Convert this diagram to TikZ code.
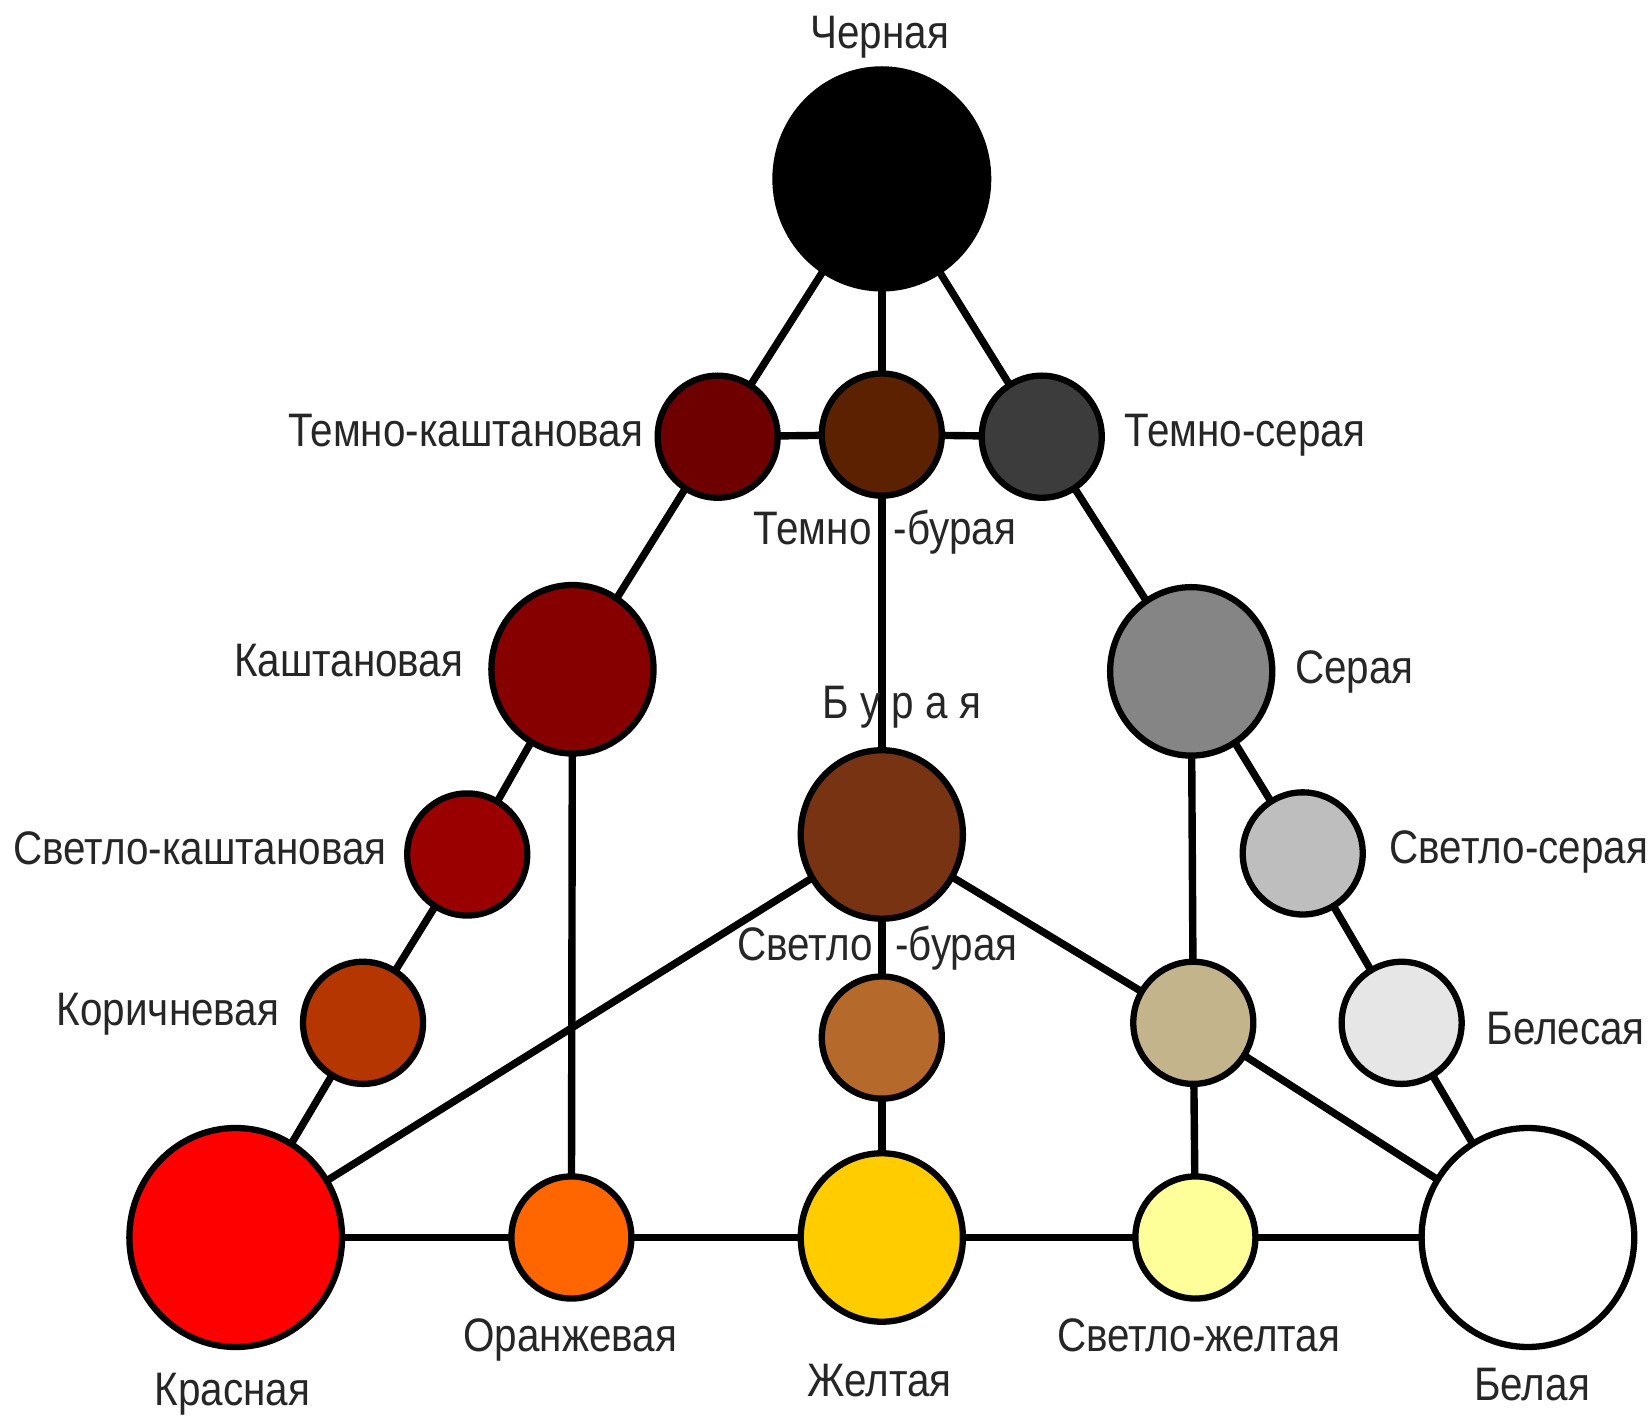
\documentclass[tikz,border=0pt]{standalone}
\usepackage{fontspec}
\setmainfont{Liberation Sans}[FakeStretch=0.86]
\usetikzlibrary{shapes.geometric}

\definecolor{tkasht}{HTML}{6E0000}
\definecolor{tbur}{HTML}{5C2200}
\definecolor{tser}{HTML}{3C3C3C}
\definecolor{kasht}{HTML}{860000}
\definecolor{ser}{HTML}{858585}
\definecolor{bur}{HTML}{773312}
\definecolor{skasht}{HTML}{9B0000}
\definecolor{sser}{HTML}{BEBEBE}
\definecolor{korich}{HTML}{B53600}
\definecolor{sbur}{HTML}{B5692A}
\definecolor{pale}{HTML}{C4B48C}
\definecolor{beles}{HTML}{E6E6E6}
\definecolor{krasn}{HTML}{FF0000}
\definecolor{oranzh}{HTML}{FF6600}
\definecolor{zhelt}{HTML}{FFCC00}
\definecolor{szhelt}{HTML}{FFFF99}

\begin{document}
\begin{tikzpicture}[x=0.01cm, y=-0.01cm,
    spot/.style={ellipse, draw=black, line width=1.7pt, inner sep=0pt, outer sep=0pt},
    bigspot/.style={spot, minimum width=2.02cm, minimum height=2.08cm},
    midspot/.style={spot, minimum width=1.54cm, minimum height=1.60cm},
    smallspot/.style={spot, minimum width=1.14cm, minimum height=1.16cm},
    link/.style={line width=2pt},
    lbl/.style={inner sep=0pt, text=black!85, font=\fontsize{12.7}{15}\selectfont}]
    \useasboundingbox (0,0) rectangle (1568,1345);
    % Spots.
    \node[bigspot, fill=black] (cherna) at (838,170) {};
    \node[smallspot, fill=tkasht] (tkasht) at (682,415) {};
    \node[smallspot, fill=tbur] (tbur) at (838,413) {};
    \node[smallspot, fill=tser] (tser) at (990,415) {};
    \node[midspot, fill=kasht] (kasht) at (544,636) {};
    \node[midspot, fill=ser] (ser) at (1132,638) {};
    \node[midspot, fill=bur] (bur) at (838,793) {};
    \node[smallspot, fill=skasht] (skasht) at (444,812) {};
    \node[smallspot, fill=sser] (sser) at (1238,811) {};
    \node[smallspot, fill=korich] (korich) at (345,972) {};
    \node[smallspot, fill=sbur] (sbur) at (838,986) {};
    \node[smallspot, fill=pale] (pale) at (1134,972) {};
    \node[smallspot, fill=beles] (beles) at (1332,972) {};
    \node[bigspot, fill=krasn] (krasn) at (224,1176) {};
    \node[smallspot, fill=oranzh] (oranzh) at (543,1176) {};
    \node[midspot, fill=zhelt] (zhelt) at (838,1176) {};
    \node[smallspot, fill=szhelt] (szhelt) at (1136,1176) {};
    \node[bigspot, fill=white] (bel) at (1452,1176) {};
    % Links.
    \foreach \a/\b in {cherna/tkasht, cherna/tbur, cherna/tser, tkasht/tbur, tbur/tser,
        tkasht/kasht, kasht/skasht, skasht/korich, korich/krasn,
        tbur/bur, bur/sbur, sbur/zhelt,
        tser/ser, ser/sser, sser/beles, beles/bel,
        kasht/oranzh, ser/pale, pale/szhelt, bur/krasn, bur/pale, pale/bel,
        krasn/oranzh, oranzh/zhelt, zhelt/szhelt, szhelt/bel}
      \draw[link] (\a) -- (\b);
    % Labels.
    \node[lbl, anchor=base] (cherna-lbl) at (836,46) {Черная};
    \node[lbl, anchor=base east] (tkasht-lbl) at (612,424) {Темно-каштановая};
    \node[lbl, anchor=base west] (tser-lbl) at (1068,424) {Темно-серая};
    \node[lbl, anchor=base] (tbur-lbl) at (841,517) {Темно\hspace{6pt}-бурая};
    \node[lbl, anchor=base east] (kasht-lbl) at (441,643) {Каштановая};
    \node[lbl, anchor=base west] (ser-lbl) at (1230,650) {Серая};
    \node[lbl, anchor=base] (bur-lbl) at (857,683) {Б у р а я};
    \node[lbl, anchor=base east] (skasht-lbl) at (368,822) {Светло-каштановая};
    \node[lbl, anchor=base west] (sser-lbl) at (1320,821) {Светло-серая};
    \node[lbl, anchor=base east] (korich-lbl) at (266,975) {Коричневая};
    \node[lbl, anchor=base] (sbur-lbl) at (834,913) {Светло\hspace{6pt}-бурая};
    \node[lbl, anchor=base west] (beles-lbl) at (1412,993) {Белесая};
    \node[lbl, anchor=base] (krasn-lbl) at (221,1336) {Красная};
    \node[lbl, anchor=base] (oranzh-lbl) at (542,1284) {Оранжевая};
    \node[lbl, anchor=base] (zhelt-lbl) at (836,1327) {Желтая};
    \node[lbl, anchor=base] (szhelt-lbl) at (1139,1284) {Светло-желтая};
    \node[lbl, anchor=base] (bel-lbl) at (1456,1331) {Белая};
\end{tikzpicture}
\end{document}
